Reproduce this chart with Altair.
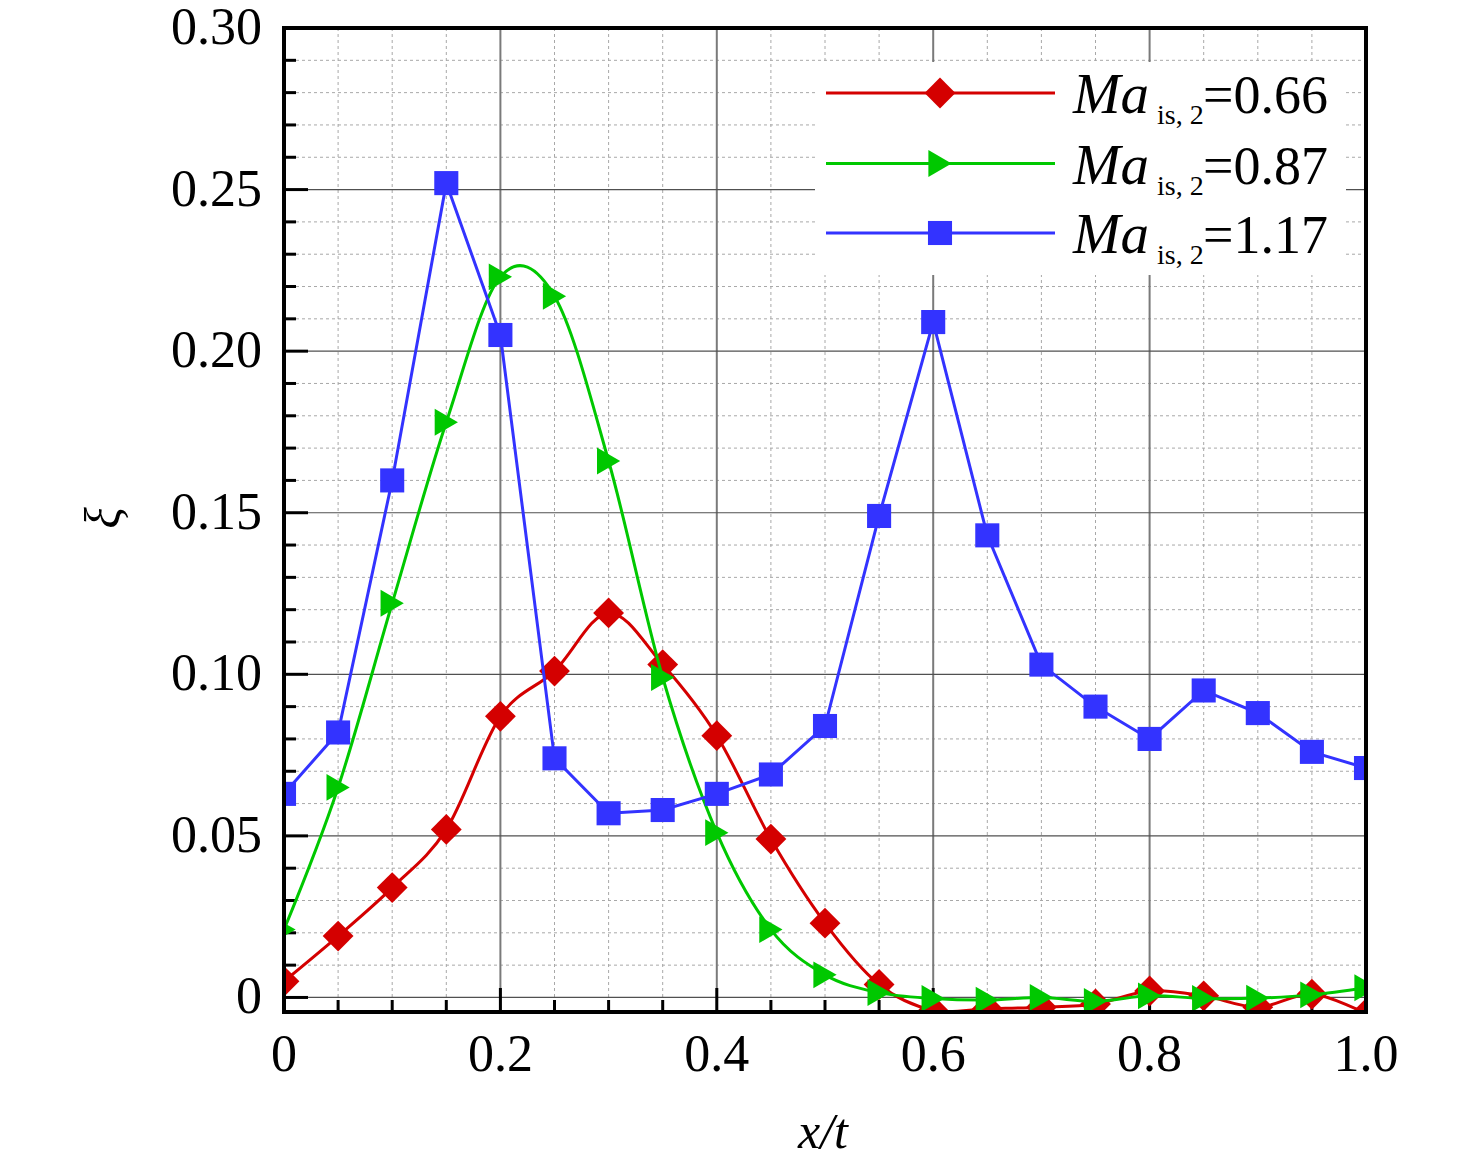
import altair as alt
import pandas as pd

# ---------------- data ----------------
x_vals = [0.00, 0.05, 0.10, 0.15, 0.20, 0.25, 0.30, 0.35, 0.40, 0.45, 0.50,
          0.55, 0.60, 0.65, 0.70, 0.75, 0.80, 0.85, 0.90, 0.95, 1.00]
xi_066 = [0.005, 0.019, 0.034, 0.052, 0.087, 0.101, 0.119, 0.103, 0.081, 0.049, 0.023,
          0.004, -0.004, -0.0035, -0.003, -0.002, 0.002, 0.0005, -0.003, 0.001, -0.005]
xi_087 = [0.021, 0.065, 0.122, 0.178, 0.223, 0.217, 0.166, 0.099, 0.051, 0.021, 0.007,
          0.0015, -0.0003, -0.0008, 0.0, -0.0012, 0.0005, -0.0003, -0.0002, 0.0008, 0.003]
xi_117 = [0.063, 0.082, 0.160, 0.252, 0.205, 0.074, 0.057, 0.058, 0.063, 0.069, 0.084,
          0.149, 0.209, 0.143, 0.103, 0.090, 0.080, 0.095, 0.088, 0.076, 0.071]
series_values = ["0.66", "0.87", "1.17"]
series_data = [xi_066, xi_087, xi_117]
colors = ["#d40000", "#00c800", "#3333ff"]
shapes = ["diamond", "triangle-right", "square"]
sizes = [950, 720, 580]
interps = ["cardinal", "cardinal", "linear"]

x_major = [0.2, 0.4, 0.6, 0.8]
x_minor = [0.05, 0.10, 0.15, 0.25, 0.30, 0.35, 0.45, 0.50, 0.55, 0.65, 0.70, 0.75,
           0.85, 0.90, 0.95]
y_major = [0.0, 0.05, 0.10, 0.15, 0.20, 0.25]
y_minor = [round(0.01 * i, 2) for i in range(1, 30) if i % 5 != 0]
x_tick_vals = [0.0, 0.2, 0.4, 0.6, 0.8, 1.0]
x_tick_text = ["0", "0.2", "0.4", "0.6", "0.8", "1.0"]
y_tick_vals = [0.0, 0.05, 0.10, 0.15, 0.20, 0.25, 0.30]
y_tick_text = ["0", "0.05", "0.10", "0.15", "0.20", "0.25", "0.30"]
x_title = "x/t"
y_title = "ξ"

# ---------------- layout ----------------
W, H = 1082, 984
FONT = "'Liberation Serif', 'Times New Roman', 'DejaVu Serif', serif"
xs = alt.Scale(domain=[0, 1], nice=False, zero=False)
ys = alt.Scale(domain=[-0.0045, 0.30], nice=False, zero=False)
one = pd.DataFrame({"a": [0]})

layers = []

# minor grid (dotted)
layers.append(alt.Chart(pd.DataFrame({"v": x_minor})).mark_rule(
    color="#a8a8a8", strokeWidth=1, strokeDash=[3, 3]).encode(
    x=alt.X("v:Q", scale=xs, axis=None), y=alt.value(0), y2=alt.value(H)))
layers.append(alt.Chart(pd.DataFrame({"v": y_minor})).mark_rule(
    color="#a8a8a8", strokeWidth=1, strokeDash=[3, 3]).encode(
    y=alt.Y("v:Q", scale=ys, axis=None), x=alt.value(0), x2=alt.value(W)))
# major grid (solid)
layers.append(alt.Chart(pd.DataFrame({"v": x_major})).mark_rule(
    color="#7a7a7a", strokeWidth=2).encode(
    x=alt.X("v:Q", scale=xs, axis=None), y=alt.value(0), y2=alt.value(H)))
layers.append(alt.Chart(pd.DataFrame({"v": y_major})).mark_rule(
    color="#505050", strokeWidth=1.2).encode(
    y=alt.Y("v:Q", scale=ys, axis=None), x=alt.value(0), x2=alt.value(W)))

# inward ticks
layers.append(alt.Chart(pd.DataFrame({"v": y_minor})).mark_rule(
    color="black", strokeWidth=3).encode(
    y=alt.Y("v:Q", scale=ys, axis=None), x=alt.value(0), x2=alt.value(12)))
layers.append(alt.Chart(pd.DataFrame({"v": y_major})).mark_rule(
    color="black", strokeWidth=3).encode(
    y=alt.Y("v:Q", scale=ys, axis=None), x=alt.value(0), x2=alt.value(24)))
layers.append(alt.Chart(pd.DataFrame({"v": x_minor})).mark_rule(
    color="black", strokeWidth=3).encode(
    x=alt.X("v:Q", scale=xs, axis=None), y=alt.value(H), y2=alt.value(H - 12)))
layers.append(alt.Chart(pd.DataFrame({"v": x_major})).mark_rule(
    color="black", strokeWidth=3).encode(
    x=alt.X("v:Q", scale=xs, axis=None), y=alt.value(H), y2=alt.value(H - 24)))

# tick labels and axis titles as text
layers.append(alt.Chart(pd.DataFrame({"v": y_tick_vals, "t": y_tick_text})).mark_text(
    font=FONT, fontSize=52, align="right", baseline="middle", color="black").encode(
    y=alt.Y("v:Q", scale=ys, axis=None), x=alt.value(-22), text="t:N"))
layers.append(alt.Chart(pd.DataFrame({"v": x_tick_vals, "t": x_tick_text})).mark_text(
    font=FONT, fontSize=52, align="center", baseline="top", color="black").encode(
    x=alt.X("v:Q", scale=xs, axis=None), y=alt.value(H + 18), text="t:N"))
layers.append(alt.Chart(one).mark_text(
    text=x_title, font=FONT, fontSize=50, fontStyle="italic", align="center",
    baseline="alphabetic", color="black").encode(
    x=alt.value(539), y=alt.value(H + 136)))
layers.append(alt.Chart(one).mark_text(
    text=y_title, font=FONT, fontSize=50, fontStyle="italic", align="center",
    baseline="middle", angle=270, color="black").encode(
    x=alt.value(-179), y=alt.value(490)))

# data series
for i, (lab, vals) in enumerate(zip(series_values, series_data)):
    df = pd.DataFrame({"x": x_vals, "xi": vals})
    xe = alt.X("x:Q", scale=xs, axis=None)
    ye = alt.Y("xi:Q", scale=ys, axis=None)
    layers.append(alt.Chart(df).mark_line(
        color=colors[i], strokeWidth=3, interpolate=interps[i], clip=True).encode(x=xe, y=ye))
    layers.append(alt.Chart(df).mark_point(
        shape=shapes[i], size=sizes[i], filled=True, opacity=1, color=colors[i],
        clip=True).encode(x=xe, y=ye))

# frame
layers.append(alt.Chart(one).mark_rect(filled=False, stroke="black", strokeWidth=4).encode(
    x=alt.value(0), x2=alt.value(W), y=alt.value(0), y2=alt.value(H)))

# legend (manual, to allow the subscript)
layers.append(alt.Chart(one).mark_rect(color="white").encode(
    x=alt.value(531), x2=alt.value(1062), y=alt.value(34), y2=alt.value(247)))
row_y = [65, 135.5, 205]
for i, lab in enumerate(series_values):
    yr = row_y[i]
    layers.append(alt.Chart(one).mark_rule(color=colors[i], strokeWidth=3).encode(
        x=alt.value(542), x2=alt.value(771), y=alt.value(yr)))
    layers.append(alt.Chart(one).mark_point(
        shape=shapes[i], size=sizes[i], filled=True, opacity=1, color=colors[i]).encode(
        x=alt.value(656), y=alt.value(yr)))
    layers.append(alt.Chart(one).mark_text(
        text="Ma", font=FONT, fontSize=57, fontStyle="italic", align="left",
        baseline="alphabetic", color="black").encode(
        x=alt.value(789), y=alt.value(yr + 20)))
    layers.append(alt.Chart(one).mark_text(
        text="is, 2", font=FONT, fontSize=28, align="left",
        baseline="alphabetic", color="black").encode(
        x=alt.value(873), y=alt.value(yr + 31)))
    layers.append(alt.Chart(one).mark_text(
        text="=" + lab, font=FONT, fontSize=54, align="left",
        baseline="alphabetic", color="black").encode(
        x=alt.value(919), y=alt.value(yr + 20)))

chart = alt.layer(*layers).properties(
    width=W, height=H,
    autosize=alt.AutoSizeParams(type="none"),
    padding={"left": 276, "top": 20, "right": 100, "bottom": 150},
).configure_view(stroke=None, fill="white").configure(background="white")

chart.save("out.html", embed_options={"renderer": "svg", "actions": False})
